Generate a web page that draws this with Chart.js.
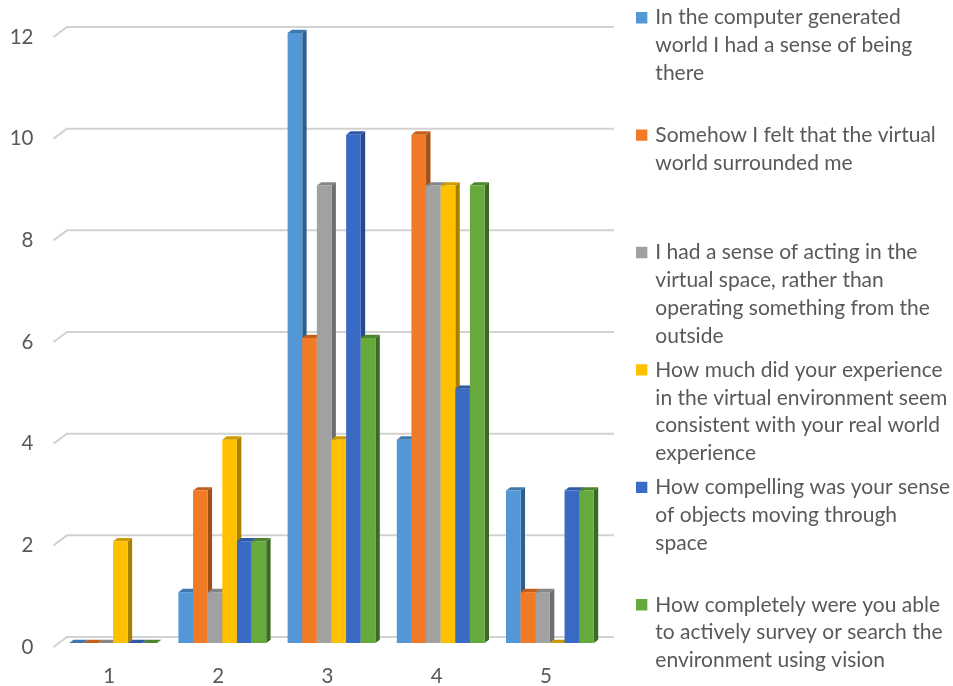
<!DOCTYPE html>
<html><head><meta charset="utf-8">
<style>html,body{margin:0;padding:0;background:#fff}canvas{display:block}</style>
<script src="https://cdn.jsdelivr.net/npm/chart.js@4/dist/chart.umd.min.js"></script>
</head><body><canvas id="c" width="953" height="686"></canvas>
<script>
const categories = ['1','2','3','4','5'];
const s1 = [0,1,12,4,3];
const s2 = [0,3,6,10,1];
const s3 = [0,1,9,9,1];
const s4 = [2,4,4,9,0];
const s5 = [0,2,10,5,3];
const s6 = [0,2,6,9,3];
const names = [
 ['In the computer generated','world I had a sense of being','there'],
 ['Somehow I felt that the virtual','world surrounded me'],
 ['I had a sense of acting in the','virtual space, rather than','operating something from the','outside'],
 ['How much did your experience','in the virtual environment seem','consistent with your real world','experience'],
 ['How compelling was your sense','of objects moving through','space'],
 ['How completely were you able','to actively survey or search the','environment using vision']
];
const series = [s1,s2,s3,s4,s5,s6];
const front = ['#5497d6','#f17a26','#a1a1a1','#ffc000','#3a6bc4','#66a93c'];
const side  = ['#2f5f8c','#a24e16','#6e6e6e','#a88000','#264a8c','#3d6a22'];
const top_  = ['#3f78ad','#c4601c','#868686','#cf9c00','#2f58a6','#4f8530'];
const DX=4.4, DY=3.3;

const depth = {
 id:'depth',
 afterLayout(chart){
  const l=chart.legend; l.left=632.3; l.right=953; l.top=1; l.bottom=686;
 },
 beforeDatasetsDraw(chart){
  const {ctx,scales:{y}}=chart, a=chart.chartArea;
  ctx.save(); ctx.strokeStyle='#d2d2d2'; ctx.lineWidth=2;
  y.ticks.forEach(t=>{
   const p=y.getPixelForValue(t.value);
   ctx.beginPath(); ctx.moveTo(a.left-5,p+4); ctx.lineTo(a.left+8.5,p-6); ctx.lineTo(a.right+9.5,p-6); ctx.stroke();
  });
  ctx.restore();
 },
 beforeDatasetDraw(){ return false; },
 afterDatasetsDraw(chart){
  const ctx=chart.ctx;
  ctx.save();
  series.forEach((d,i)=>{
   chart.getDatasetMeta(i).data.forEach(b=>{
    const r=b.x+b.width/2, l=b.x-b.width/2, t=b.y, bt=b.base;
    if(bt-t>0.5){
     ctx.fillStyle=side[i]; ctx.beginPath();
     ctx.moveTo(r,t);ctx.lineTo(r+DX,t-DY);ctx.lineTo(r+DX,bt-DY);ctx.lineTo(r,bt);ctx.closePath();ctx.fill();
    }
    ctx.fillStyle=top_[i]; ctx.beginPath();
    ctx.moveTo(l,t);ctx.lineTo(l+DX,t-DY);ctx.lineTo(r+DX,t-DY);ctx.lineTo(r,t);ctx.closePath();ctx.fill();
    b.draw(ctx);
   });
  });
  ctx.restore();
 }
};

new Chart(document.getElementById('c'),{
 type:'bar',
 data:{labels:categories,datasets:series.map((d,i)=>({label:names[i].join(' '),data:d,backgroundColor:front[i],categoryPercentage:0.804,barPercentage:1,borderWidth:0}))},
 plugins:[depth],
 options:{
  responsive:false,animation:false,
  layout:{padding:{left:0,right:147,top:33,bottom:0}},
  scales:{
   x:{grid:{display:false},border:{display:false},
      ticks:{color:'#595959',font:{family:'Lato',size:20.5},labelOffset:-4,padding:13,maxRotation:0},
      afterFit(s){s.height=43;}},
   y:{min:0,max:12,grid:{display:false},border:{display:false},
      ticks:{stepSize:2,color:'#595959',font:{family:'Lato',size:20.5},padding:17,labelOffset:4},
      afterFit(s){s.width=58.5;}}
  },
  plugins:{
   tooltip:{enabled:false},
   legend:{position:'right',align:'start',
    labels:{boxWidth:6.35,boxHeight:6.35,padding:6.2,color:'#595959',font:{family:'Lato',size:21,lineHeight:1.324},
     generateLabels(){
      return names.map((n,i)=>({text:[...n,'','','',''].slice(0,4),fillStyle:front[i],strokeStyle:front[i],lineWidth:5,fontColor:'#595959',datasetIndex:i,hidden:false}));
     }}
   }
  }
 }
});
</script></body></html>
